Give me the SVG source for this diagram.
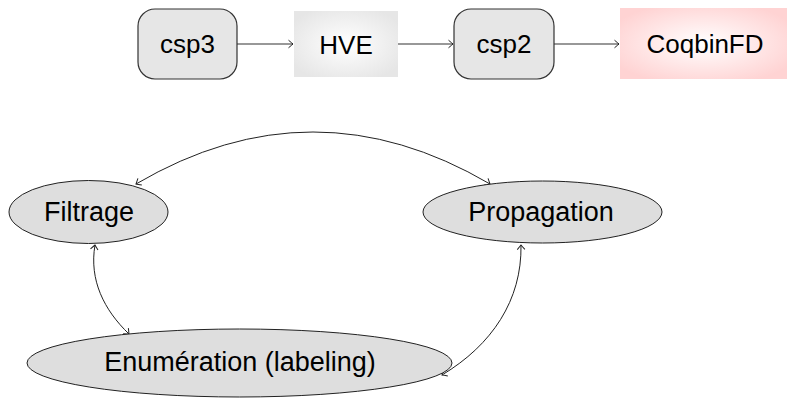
<svg xmlns="http://www.w3.org/2000/svg" width="787" height="398" viewBox="0 0 787 398">
<style>
  .t { font-family: "Liberation Sans", Arial, sans-serif; fill: #000; text-anchor: middle; }
  .top { font-size: 26px; }
  .bot { font-size: 27px; }
  .rr { fill: #e6e6e6; stroke: #333; stroke-width: 1.2; }
  .el { fill: #dedede; stroke: #222; stroke-width: 1; }
  .c { fill: none; stroke: #222; stroke-width: 1; }
  .a { fill: none; stroke: #333; stroke-width: 1.1; }
</style>
<defs>
  <radialGradient id="gGray" cx="50%" cy="50%" r="60%">
    <stop offset="0" stop-color="#ffffff"/>
    <stop offset="1" stop-color="#e6e6e6"/>
  </radialGradient>
  <radialGradient id="gPink" cx="50%" cy="50%" r="60%">
    <stop offset="0" stop-color="#ffffff"/>
    <stop offset="1" stop-color="#ffd3d3"/>
  </radialGradient>
  <marker id="arr" viewBox="-6 -5 8 10" refX="0" refY="0" markerWidth="8" markerHeight="10" markerUnits="userSpaceOnUse" orient="auto-start-reverse">
    <path d="M-4.5,-3.8 Q-1.2,-1 0,0 Q-1.2,1 -4.5,3.8" fill="none" stroke="#222" stroke-width="1"/>
  </marker>
</defs>

<g id="connectors">
  <line class="a" x1="237" y1="44" x2="293" y2="44" marker-end="url(#arr)"/>
  <line class="a" x1="398" y1="44" x2="453" y2="44" marker-end="url(#arr)"/>
  <line class="a" x1="554" y1="44" x2="619" y2="44" marker-end="url(#arr)"/>
  <path class="c" d="M490,184 Q313,80 136,184" marker-start="url(#arr)" marker-end="url(#arr)"/>
  <path class="c" d="M95,245 C89,280 104,310 129,334" marker-start="url(#arr)" marker-end="url(#arr)"/>
  <path class="c" d="M521,245 C522,300 492,345 442,375" marker-start="url(#arr)" marker-end="url(#arr)"/>
</g>

<g id="csp3">
  <rect class="rr" x="138" y="9" width="99" height="70" rx="17"/>
  <text class="t top" x="187.5" y="53">csp3</text>
</g>
<g id="HVE">
  <rect x="294" y="11" width="104" height="66" fill="url(#gGray)"/>
  <text class="t top" x="346" y="54">HVE</text>
</g>
<g id="csp2">
  <rect class="rr" x="454" y="9" width="100" height="70" rx="17"/>
  <text class="t top" x="504" y="53">csp2</text>
</g>
<g id="CoqbinFD">
  <rect x="620" y="8" width="167" height="71" fill="url(#gPink)"/>
  <text class="t top" x="705" y="53">CoqbinFD</text>
</g>

<g id="Filtrage">
  <ellipse class="el" cx="88.5" cy="212" rx="79.5" ry="31.5"/>
  <text class="t bot" x="89" y="221">Filtrage</text>
</g>
<g id="Propagation">
  <ellipse class="el" cx="542.5" cy="212" rx="119.5" ry="31"/>
  <text class="t bot" x="541" y="221">Propagation</text>
</g>
<g id="Enumeration">
  <ellipse class="el" cx="239.5" cy="363" rx="212.5" ry="34"/>
  <text class="t bot" x="240" y="371">Enumération (labeling)</text>
</g>
</svg>
